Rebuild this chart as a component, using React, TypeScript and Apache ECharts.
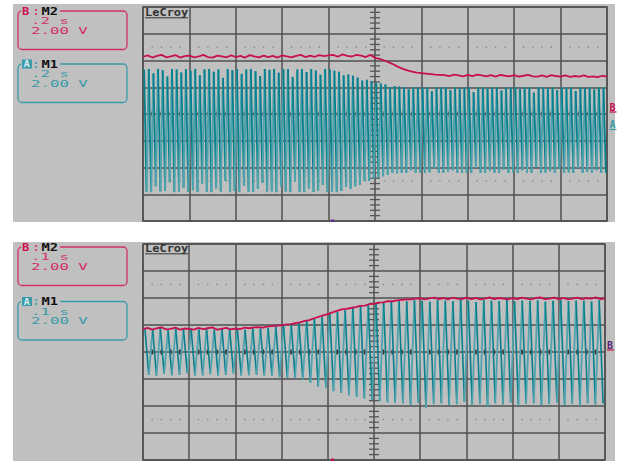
import React, { useEffect, useRef } from "react";
import * as echarts from "echarts";

// Scope display: two captures, each 10 x 8 divisions. Values are in divisions.
// Trace B (M2, red) sampled every 0.1 division.
const topTraceB = [
  2.14, 2.19, 2.11, 2.17, 2.21, 2.12, 2.15, 2.2, 2.11, 2.16,
  2.18, 2.12, 2.15, 2.21, 2.13, 2.11, 2.18, 2.15, 2.12, 2.19,
  2.13, 2.17, 2.11, 2.2, 2.15, 2.12, 2.18, 2.13, 2.17, 2.11,
  2.19, 2.15, 2.12, 2.17, 2.21, 2.13, 2.18, 2.14, 2.2, 2.16,
  2.19, 2.21, 2.14, 2.23, 2.17, 2.15, 2.21, 2.18, 2.13, 2.21,
  2.1, 2.06, 2.0, 1.93, 1.85, 1.76, 1.69, 1.63, 1.58, 1.55,
  1.53, 1.51, 1.49, 1.47, 1.46, 1.45, 1.42, 1.47, 1.44, 1.41,
  1.46, 1.42, 1.47, 1.44, 1.41, 1.45, 1.4, 1.46, 1.43, 1.41,
  1.45, 1.4, 1.43, 1.46, 1.41, 1.4, 1.44, 1.39, 1.45, 1.42,
  1.4, 1.44, 1.39, 1.42, 1.4, 1.44, 1.39, 1.41, 1.38, 1.43, 1.4,
];

// Trace A (M1, teal): positive and negative peak of each cycle.
const topTraceAHigh = [
  1.66, 1.68, 1.52, 1.68, 1.64, 1.4, 1.68, 1.66, 1.55, 1.68,
  1.62, 1.68, 1.45, 1.67, 1.68, 1.58, 1.66, 1.35, 1.68, 1.64,
  1.68, 1.5, 1.66, 1.68, 1.6, 1.42, 1.68, 1.65, 1.68, 1.54,
  1.67, 1.68, 1.38, 1.66, 1.68, 1.57, 1.68, 1.63, 1.47, 1.68,
  1.66, 1.62, 1.58, 1.45, 1.48, 1.43, 1.36, 1.25, 1.28, 1.22,
  1.17, 1.14, 1.1, 1.0, 1.05, 1.03, 1.01, 0.92, 1.0, 1.0,
  0.98, 1.0, 0.85, 1.0, 0.99, 1.0, 0.9, 1.0, 0.97, 1.0,
  1.0, 0.82, 0.99, 1.0, 0.95, 1.0, 1.0, 0.88, 1.0, 0.98,
  1.0, 0.93, 1.0, 0.99, 0.8, 1.0, 1.0, 0.96, 1.0, 0.9,
  1.0, 0.99, 1.0, 0.86, 1.0, 0.97, 1.0, 0.92, 1.0, 0.99,
];
const topTraceALow = [
  -2.9, -2.92, -2.7, -2.9, -2.88, -2.55, -2.92, -2.9, -2.75, -2.91,
  -2.85, -2.92, -2.6, -2.9, -2.92, -2.78, -2.9, -2.5, -2.92, -2.88,
  -2.92, -2.68, -2.9, -2.91, -2.8, -2.58, -2.92, -2.89, -2.92, -2.72,
  -2.9, -2.92, -2.52, -2.9, -2.92, -2.78, -2.91, -2.86, -2.65, -2.92,
  -2.9, -2.92, -2.88, -2.72, -2.8, -2.7, -2.65, -2.5, -2.5, -2.42,
  -2.37, -2.33, -2.28, -2.2, -2.22, -2.2, -2.2, -2.1, -2.2, -2.19,
  -2.2, -2.18, -2.05, -2.2, -2.2, -2.17, -2.1, -2.2, -2.2, -2.19,
  -2.2, -2.02, -2.2, -2.19, -2.12, -2.2, -2.2, -2.08, -2.2, -2.18,
  -2.2, -2.1, -2.2, -2.2, -2.0, -2.2, -2.19, -2.14, -2.2, -2.06,
  -2.2, -2.18, -2.2, -2.04, -2.2, -2.16, -2.2, -2.1, -2.2, -2.2,
];

const bottomTraceB = [
  0.85, 0.89, 0.83, 0.88, 0.91, 0.84, 0.86, 0.9, 0.83, 0.87,
  0.86, 0.83, 0.89, 0.85, 0.88, 0.91, 0.83, 0.86, 0.89, 0.84,
  0.87, 0.85, 0.9, 0.88, 0.91, 0.92, 0.9, 0.95, 0.96, 0.98,
  0.99, 1.02, 1.03, 1.07, 1.1, 1.15, 1.18, 1.25, 1.3, 1.36,
  1.4, 1.47, 1.52, 1.58, 1.6, 1.63, 1.66, 1.71, 1.72, 1.77,
  1.78, 1.83, 1.84, 1.88, 1.88, 1.91, 1.93, 1.95, 1.95, 1.98,
  1.99, 1.95, 1.99, 2.01, 1.96, 2.0, 1.95, 2.01, 1.98, 1.96,
  2.01, 1.96, 2.0, 1.95, 1.98, 2.02, 1.96, 2.0, 1.98, 1.95,
  2.0, 1.96, 2.01, 1.98, 1.95, 2.0, 2.02, 1.96, 1.98, 2.01,
  1.96, 2.0, 1.95, 1.98, 2.01, 1.96, 2.0, 1.98, 2.02, 1.96, 1.99,
];

const bottomTraceAHigh = [
  0.87, 0.85, 0.88, 0.8, 0.87, 0.86, 0.88, 0.84, 0.87, 0.82,
  0.88, 0.86, 0.87, 0.83, 0.88, 0.87, 0.9, 0.95, 1.0, 1.04,
  1.1, 1.18, 1.25, 1.3, 1.42, 1.48, 1.55, 1.65, 1.7, 1.78,
  1.82, 1.85, 1.88, 1.9, 1.88, 1.92, 1.9, 1.86, 1.92, 1.9,
  1.88, 1.93, 1.9, 1.85, 1.92, 1.9, 1.89, 1.93, 1.87, 1.91,
  1.9, 1.92, 1.86, 1.9, 1.93, 1.88, 1.91, 1.9, 1.87, 1.92,
];
const bottomTraceALow = [
  -0.85, -0.87, -0.8, -0.86, -0.85, -0.78, -0.87, -0.86, -0.82, -0.87,
  -0.85, -0.79, -0.87, -0.86, -0.84, -0.87, -0.88, -0.93, -0.96, -0.95,
  -1.02, -1.15, -1.28, -1.32, -1.45, -1.52, -1.6, -1.66, -1.72, -1.77,
  -1.82, -1.86, -1.88, -1.9, -1.95, -1.88, -2.05, -1.92, -1.9, -1.96,
  -1.93, -1.85, -1.95, -1.92, -2.02, -1.9, -1.94, -1.88, -1.95, -1.92,
  -1.9, -1.96, -1.93, -1.87, -1.95, -1.92, -1.98, -1.9, -1.94, -1.91,
];

const topTimebase = ".2 s";
const bottomTimebase = ".1 s";
const voltsPerDiv = "2.00 V";

const BG = "#c0c0c0";
const GRID = "#505050";
const RED = "#c8104f";
const RED_TEXT = "#d2306a";
const TEAL_DARK = "#06808d";
const TEAL_LIGHT = "#4ea3ad";
const TEAL_TEXT = "#3a9ba8";
const DIVS_X = 10;

// Trace B samples -> [x, y] pairs
const toPairs = (vals: number[]) => vals.map((v, i) => [(i * DIVS_X) / (vals.length - 1), v]);

// One rising and one falling stroke per cycle
function strokes(highs: number[], lows: number[]) {
  const n = highs.length;
  const p = DIVS_X / n;
  const out: number[][] = [];
  for (let i = 0; i < n; i++) {
    const xh = (i + 0.25) * p;
    const xl = (i + 0.75) * p;
    if (i > 0) out.push([(i - 0.25) * p, lows[i - 1], xh, highs[i], 0]);
    out.push([xh, highs[i], xl, lows[i], 1]);
  }
  return out;
}

// Graticule decorations: fifth-division dots, centre-line marks and the centre ladder
function graticule() {
  const out: number[][] = [];
  for (let k = 1; k < 50; k++) {
    if (k % 5 === 0) continue;
    const x = k * 0.2;
    out.push([x, 2.5, 0]);
    out.push([x, -2.5, 0]);
    out.push([x, 0, 1]);
  }
  for (let k = -19; k < 20; k++) {
    if (k % 5 === 0) continue;
    out.push([5, k * 0.2, 2]);
  }
  return out;
}

const makeStrokeRenderer = (lightW: number, darkW: number) => (_p: any, api: any) => {
  const a = api.coord([api.value(0), api.value(1)]);
  const b = api.coord([api.value(2), api.value(3)]);
  const rising = api.value(4) === 0;
  return {
    type: "line",
    shape: { x1: a[0], y1: a[1], x2: b[0], y2: b[1] },
    style: { stroke: rising ? TEAL_LIGHT : TEAL_DARK, lineWidth: rising ? lightW : darkW },
  };
};

const renderGraticule = (_p: any, api: any) => {
  const c = api.coord([api.value(0), api.value(1)]);
  const kind = api.value(2);
  if (kind === 0) {
    return { type: "rect", shape: { x: c[0] - 0.7, y: c[1] - 0.7, width: 1.4, height: 1.4 }, style: { fill: "#858585" } };
  }
  if (kind === 1) {
    return { type: "rect", shape: { x: c[0] - 1, y: c[1] - 2.5, width: 2, height: 5 }, style: { fill: "#3c3c3c" } };
  }
  return { type: "line", shape: { x1: c[0] - 5, y1: c[1], x2: c[0] + 5, y2: c[1] }, style: { stroke: "#555", lineWidth: 1.3 } };
};

const MONO = '"DejaVu Sans Mono", monospace';

function txt(x: number, y: number, text: string, fill: string, font: string, scaleX = 1) {
  return { type: "text", x, y, scaleX, z: 10, style: { text, fill, font, verticalAlign: "middle", align: "left" } };
}

function channelBox(top: number, ch: "B" | "A", timebase: string) {
  const col = ch === "B" ? RED_TEXT : TEAL_TEXT;
  const els: any[] = [
    { type: "rect", z: 5, shape: { x: 18, y: top, width: 109, height: 38.5, r: 4 }, style: { fill: "none", stroke: col, lineWidth: 1.3 } },
    { type: "rect", z: 6, shape: { x: 21, y: top - 5, width: 39, height: 10 }, style: { fill: BG } },
  ];
  if (ch === "B") {
    els.push(txt(22, top, "B", "#d01050", `bold 11px ${MONO}`, 1.1));
  } else {
    els.push({ type: "rect", z: 9, shape: { x: 22, y: top - 4.5, width: 10, height: 9 }, style: { fill: TEAL_TEXT } });
    els.push(txt(23.8, top, "A", "#d8eef0", `bold 9px ${MONO}`, 1.1));
  }
  els.push(txt(33, top, ":", col, `bold 10px ${MONO}`));
  els.push(txt(41.5, top, ch === "B" ? "M2" : "M1", "#111", `bold 11px ${MONO}`, 1.25));
  els.push(txt(31, top + 10, timebase, col, `9px ${MONO}`, 1.75));
  els.push(txt(31, top + 19.5, voltsPerDiv, col, `9px ${MONO}`, 1.75));
  return els;
}

function brand(y: number) {
  return [
    txt(145, y, "LeCroy", "#333", `bold 10px ${MONO}`, 1.2),
    { type: "line", z: 10, shape: { x1: 145, y1: y + 4.5, x2: 188, y2: y + 4.5 }, style: { stroke: "#333", lineWidth: 1 } },
  ];
}

function marker(x: number, y: number, label: string, col: string, under: string) {
  return [
    txt(x, y, label, col, `bold 10px ${MONO}`),
    { type: "line", z: 10, shape: { x1: x, y1: y + 5, x2: x + 7, y2: y + 5 }, style: { stroke: under, lineWidth: 1.2 } },
  ];
}

const axisPair = (gridIndex: number) => ({
  x: {
    type: "value", gridIndex, min: 0, max: DIVS_X, interval: 1,
    axisLabel: { show: false }, axisTick: { show: false }, axisLine: { show: false },
    splitLine: { show: true, lineStyle: { color: GRID, width: 1.5 } },
  },
  y: {
    type: "value", gridIndex, min: -4, max: 4, interval: 1,
    axisLabel: { show: false }, axisTick: { show: false }, axisLine: { show: false },
    splitLine: { show: true, lineStyle: { color: GRID, width: 1.5 } },
  },
});

export default function App() {
  const ref = useRef<HTMLDivElement>(null);

  useEffect(() => {
    if (!ref.current) return;
    const chart = echarts.init(ref.current, null, { renderer: "svg" });
    const a0 = axisPair(0);
    const a1 = axisPair(1);
    const ret = graticule();

    chart.setOption({
      animation: false,
      backgroundColor: "#ffffff",
      grid: [
        { left: 143, top: 7, width: 464, height: 214, show: true, borderColor: GRID, borderWidth: 1.5, backgroundColor: "transparent" },
        { left: 143, top: 244, width: 462, height: 216, show: true, borderColor: GRID, borderWidth: 1.5, backgroundColor: "transparent" },
      ],
      xAxis: [a0.x, a1.x],
      yAxis: [a0.y, a1.y],
      graphic: [
        { type: "rect", z: -10, shape: { x: 13, y: 4, width: 602, height: 218 }, style: { fill: BG } },
        { type: "rect", z: -10, shape: { x: 13, y: 242, width: 602, height: 220 }, style: { fill: BG } },
        ...channelBox(11, "B", topTimebase),
        ...channelBox(64, "A", topTimebase),
        ...channelBox(247, "B", bottomTimebase),
        ...channelBox(301.5, "A", bottomTimebase),
        ...brand(13.3),
        ...brand(249.3),
        ...marker(609.5, 107, "B", RED, RED),
        ...marker(609.5, 124.5, "A", TEAL_TEXT, TEAL_TEXT),
        ...marker(607, 345, "B", "#5b2a78", RED),
        // trigger position markers
        { type: "rect", z: 10, shape: { x: 331, y: 219.5, width: 3, height: 2.5 }, style: { fill: "#6a2a8a" } },
        { type: "rect", z: 10, shape: { x: 331, y: 458.5, width: 3, height: 2.5 }, style: { fill: "#c8104f" } },
      ],
      series: [
        { type: "custom", xAxisIndex: 0, yAxisIndex: 0, z: 1, silent: true, renderItem: renderGraticule, data: ret },
        { type: "custom", xAxisIndex: 0, yAxisIndex: 0, z: 3, silent: true, renderItem: makeStrokeRenderer(2.1, 1.8),
          encode: { x: [0, 2], y: [1, 3] }, data: strokes(topTraceAHigh, topTraceALow) },
        { type: "line", xAxisIndex: 0, yAxisIndex: 0, z: 4, symbol: "none", silent: true,
          lineStyle: { color: RED, width: 1.8 }, data: toPairs(topTraceB) },
        { type: "custom", xAxisIndex: 1, yAxisIndex: 1, z: 1, silent: true, renderItem: renderGraticule, data: ret },
        { type: "custom", xAxisIndex: 1, yAxisIndex: 1, z: 3, silent: true, renderItem: makeStrokeRenderer(1.8, 1.6),
          encode: { x: [0, 2], y: [1, 3] }, data: strokes(bottomTraceAHigh, bottomTraceALow) },
        { type: "line", xAxisIndex: 1, yAxisIndex: 1, z: 4, symbol: "none", silent: true,
          lineStyle: { color: RED, width: 1.8 }, data: toPairs(bottomTraceB) },
      ],
    });
    return () => chart.dispose();
  }, []);

  return (
    <div
      ref={ref}
      style={{ position: "fixed", left: 0, top: 0, width: 618, height: 461, background: "#fff" }}
    />
  );
}
